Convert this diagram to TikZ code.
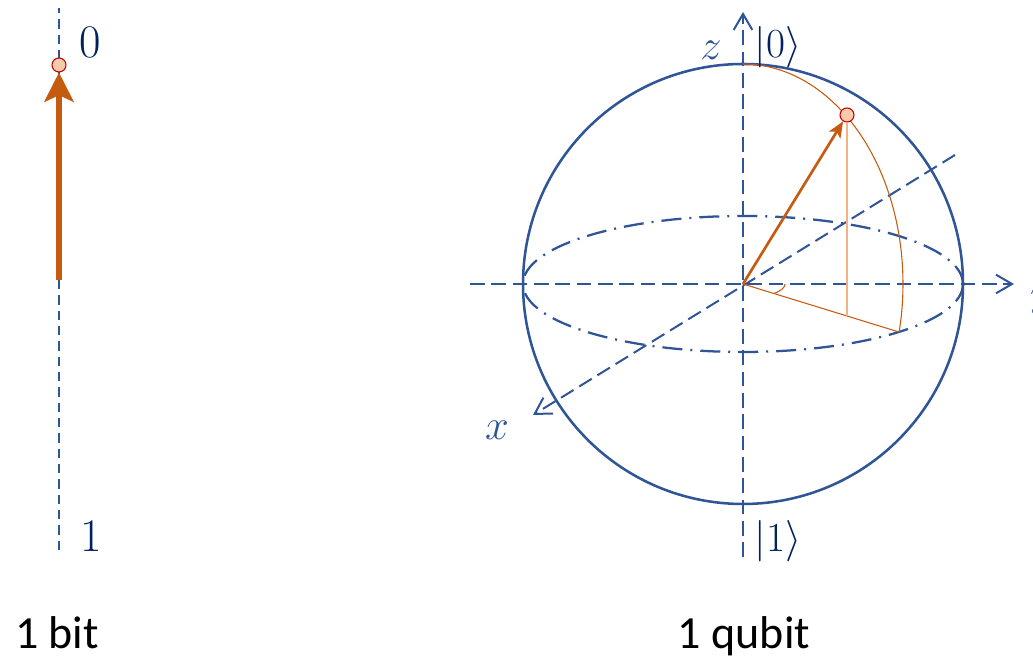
\documentclass[tikz,border=0pt]{standalone}
\usepackage{fix-cm}
\usepackage{fontspec}
\newfontfamily\labelfont{Carlito}
\usepackage{tikz}
\usetikzlibrary{arrows.meta}
\definecolor{sphereblue}{RGB}{47,85,151}
\definecolor{navy}{RGB}{0,32,96}
\definecolor{vecorange}{RGB}{197,90,17}
\definecolor{projorange}{RGB}{244,177,131}
\definecolor{dotfill}{RGB}{248,203,173}
\definecolor{dotred}{RGB}{192,0,0}

\begin{document}
\begin{tikzpicture}[x=0.75pt,y=0.75pt,
     axis/.style={sphereblue,line width=1.5pt,dash pattern=on 11pt off 5pt},
     axisarrow/.style={axis,-{Straight Barb[length=12pt,width=14pt,line width=1.5pt]}},
     sphere/.style={sphereblue,line width=1.9pt},
     equator/.style={sphereblue,line width=1.7pt,dash pattern=on 15pt off 6pt on 1.5pt off 6pt},
     thinorange/.style={vecorange,line width=0.8pt},
     proj/.style={projorange,line width=1.2pt},
     dot/.style={circle,fill=dotfill,draw=dotred,line width=0.8pt,inner sep=0pt,minimum size=10.5pt},
     axlabel/.style={text=sphereblue,font=\fontsize{32}{36}\selectfont,anchor=base},
     ketlabel/.style={text=navy,font=\fontsize{31}{36}\selectfont,anchor=base},
     caption/.style={font=\labelfont\fontsize{34.5}{40}\selectfont,anchor=base}]
   \useasboundingbox (0,0) rectangle (1033,659);
   % classical bit
   \coordinate (bittop) at (59,651); \coordinate (bitbot) at (59,109);
   \coordinate (bitbase) at (59,379);
   \draw[sphereblue,line width=1.2pt,dash pattern=on 7pt off 4.5pt] (bitbot) -- (bittop);
   \node[dot] (bitstate) at (59,594) {};
   \draw[vecorange,line width=3.8pt,-{Stealth[length=22pt,width=22pt,inset=5pt]}] (bitbase) -- (bitstate.south);
   \node[text=navy,font=\fontsize{35}{40}\selectfont,anchor=base] (zero) at (90,601) {0};
   \node[text=navy,font=\fontsize{35}{40}\selectfont,anchor=base] (one) at (91,107) {1};
   \node[caption] (bitcap) at (57,10) {1 bit};
   % Bloch sphere
   \coordinate (C) at (743,375);
   \coordinate (N) at (743,595);
   \coordinate (zbot) at (743,102); \coordinate (ztop) at (743,647);
   \coordinate (yleft) at (470,375); \coordinate (yright) at (1014,375);
   \coordinate (xback) at (955,504); \coordinate (xfront) at (533,244);
   \coordinate (P) at (847,343); \coordinate (E) at (899,327);
   \draw[sphere] (C) circle[radius=220];
   \draw[equator] (C) ellipse[x radius=220,y radius=68];
   \draw[axisarrow] (zbot) -- (ztop);
   \draw[axisarrow] (yleft) -- (yright);
   \draw[axisarrow] (xback) -- (xfront);
   \draw[thinorange] (N) arc[start angle=90,end angle=-12.6,x radius=160,y radius=220];
   \draw[thinorange] (C) -- (E);
   \draw[thinorange] (C) ++(42,0) arc[start angle=0,end angle=-42,x radius=42,y radius=14];
   \node[dot] (qstate) at (847,544) {};
   \draw[proj] (qstate) -- (P);
   \draw[vecorange,line width=2pt,-{Stealth[length=12pt,width=10pt,inset=3pt]}] (C) -- (qstate);
   \node[axlabel] (zlab) at (711,599) {$z$};
   \node[axlabel] (xlab) at (497,219) {$x$};
   \node[axlabel] (ylab) at (1041,352) {$y$};
   \node[ketlabel] (ket0) at (778,601) {$|0\rangle$};
   \node[ketlabel] (ket1) at (778,107) {$|1\rangle$};
   \node[caption] (qubitcap) at (744,10) {1 qubit};
\end{tikzpicture}
\end{document}
